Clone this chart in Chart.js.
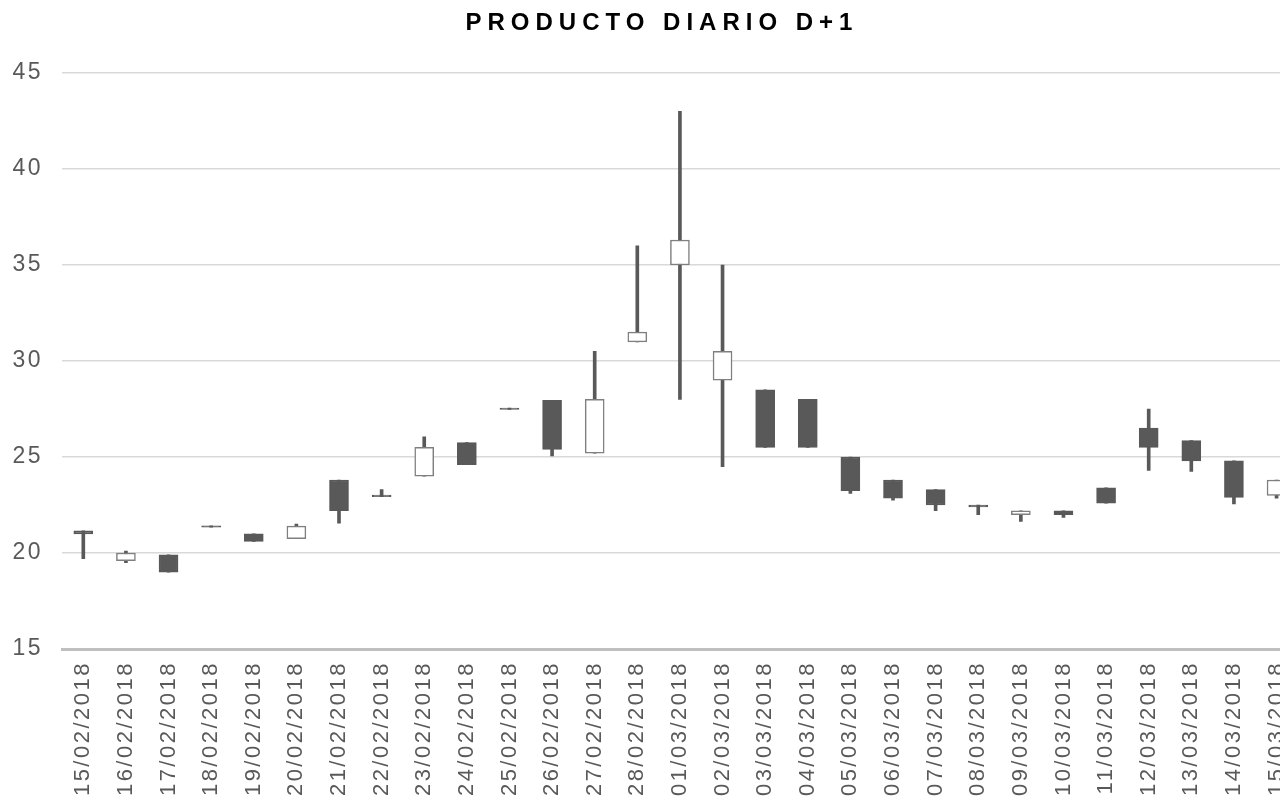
<!DOCTYPE html>
<html>
<head>
<meta charset="utf-8">
<script src="https://cdn.jsdelivr.net/npm/chart.js@4.4.1/dist/chart.umd.min.js"></script>
<style>
  html, body { margin: 0; padding: 0; background: #fff; overflow: hidden; }
  #chart { position: absolute; left: 0; top: 0; }
  #title {
    position: absolute; left: 0; top: 8px; width: 1324px; text-align: center;
    font: bold 24px "Liberation Sans", Arial, sans-serif; letter-spacing: 6px;
    color: #000;
  }
</style>
</head>
<body>
<canvas id="chart" width="1315" height="800"></canvas>
<div id="title">PRODUCTO DIARIO D+1</div>
<script>
// daily product D+1
const dates = [
  '15/02/2018', '16/02/2018', '17/02/2018', '18/02/2018', '19/02/2018', '20/02/2018', '21/02/2018',
  '22/02/2018', '23/02/2018', '24/02/2018', '25/02/2018', '26/02/2018', '27/02/2018', '28/02/2018',
  '01/03/2018', '02/03/2018', '03/03/2018', '04/03/2018', '05/03/2018', '06/03/2018', '07/03/2018',
  '08/03/2018', '09/03/2018', '10/03/2018', '11/03/2018', '12/03/2018', '13/03/2018', '14/03/2018',
  '15/03/2018'
];
const openVals  = [21.15, 19.6, 19.9, 21.42, 21.0, 20.75, 23.8, 23.02, 24.0, 25.75, 27.55, 27.95, 25.2, 31.0,
  35.0, 29.0, 28.5, 28.0, 25.0, 23.8, 23.3, 22.5, 22.0, 22.2, 23.4, 26.5, 25.85, 24.8, 23.0];
const closeVals = [21.0, 20.0, 19.0, 21.35, 20.6, 21.4, 22.2, 22.93, 25.5, 24.6, 27.48, 25.4, 28.0, 31.5,
  36.3, 30.5, 25.5, 25.5, 23.25, 22.85, 22.5, 22.4, 22.2, 22.0, 22.6, 25.5, 24.8, 22.9, 23.8];
const highVals  = [21.15, 20.1, 19.9, 21.42, 21.0, 21.5, 23.8, 23.3, 26.05, 25.75, 27.55, 27.95, 30.5, 36.0,
  43.0, 35.0, 28.5, 28.0, 25.0, 23.8, 23.3, 22.5, 22.2, 22.2, 23.4, 27.5, 25.85, 24.8, 23.8];
const lowVals   = [19.7, 19.5, 19.0, 21.35, 20.6, 20.75, 21.55, 22.93, 24.0, 24.6, 27.48, 25.05, 25.2, 31.0,
  28.0, 24.5, 25.5, 25.5, 23.1, 22.75, 22.2, 22.0, 21.65, 21.85, 22.6, 24.3, 24.25, 22.55, 22.85];
const yTicks = [15, 20, 25, 30, 35, 40, 45];

const dark = '#595959';
const isUp = openVals.map((o, i) => closeVals[i] >= o);

// a bit of character spacing on the canvas text, like the original
const spacing = {
  id: 'spacing',
  beforeDraw(chart) { chart.ctx.letterSpacing = '2.5px'; }
};

new Chart(document.getElementById('chart'), {
  type: 'bar',
  data: {
    labels: dates,
    datasets: [
      {
        label: 'body',
        data: dates.map((d, i) => [openVals[i], closeVals[i]]),
        backgroundColor: isUp.map(u => u ? '#ffffff' : dark),
        borderColor: isUp.map(u => u ? '#7f7f7f' : dark),
        borderWidth: 1.5,
        borderSkipped: false,
        barThickness: 19,
        grouped: false,
        order: 0
      },
      {
        label: 'wick',
        data: dates.map((d, i) => [lowVals[i], highVals[i]]),
        backgroundColor: dark,
        borderWidth: 0,
        barThickness: 3,
        grouped: false,
        order: 1
      }
    ]
  },
  plugins: [spacing],
  options: {
    responsive: false,
    animation: false,
    layout: { padding: { top: 73, right: 3, bottom: 0, left: 0 } },
    plugins: {
      legend: { display: false },
      tooltip: { enabled: false }
    },
    scales: {
      x: {
        offset: true,
        grid: { display: false, drawTicks: false },
        border: { color: '#bfbfbf', width: 3 },
        ticks: {
          autoSkip: false,
          minRotation: 90,
          maxRotation: 90,
          padding: 12,
          color: dark,
          font: { family: '"Liberation Sans", Arial, sans-serif', size: 22 }
        },
        afterFit(scale) { scale.height = 151; }
      },
      y: {
        min: 15,
        max: 45,
        afterBuildTicks(scale) { scale.ticks = yTicks.map(v => ({ value: v })); },
        grid: { color: '#d9d9d9', lineWidth: 1.5, drawTicks: false },
        border: { display: false },
        ticks: {
          padding: 19,
          color: dark,
          font: { family: '"Liberation Sans", Arial, sans-serif', size: 23 }
        },
        afterFit(scale) { scale.width = 62; }
      }
    }
  }
});
</script>
</body>
</html>
